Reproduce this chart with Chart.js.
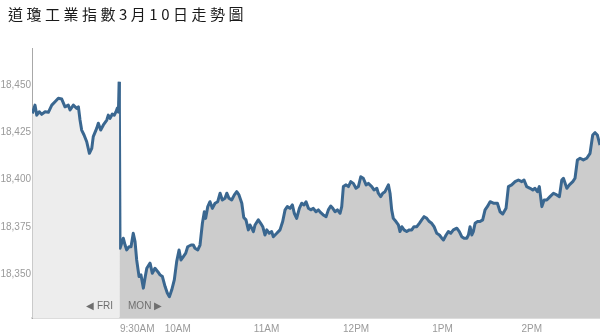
<!DOCTYPE html>
<html>
<head>
<meta charset="utf-8">
<script src="https://cdn.jsdelivr.net/npm/chart.js@4/dist/chart.umd.min.js"></script>
<style>
  html, body { margin: 0; padding: 0; background: #fff; }
  #wrap { position: relative; width: 600px; height: 336px; overflow: hidden; }
  #title { position: absolute; left: 8px; top: 3px; font-family: "Noto Sans CJK TC", "Noto Sans CJK SC", sans-serif; font-size: 15px; letter-spacing: 3.5px; color: #1a1a1a; font-weight: 400; white-space: nowrap; }
  canvas { position: absolute; left: 0; top: 0; }
</style>
</head>
<body>
<div id="wrap">
  <canvas id="c" width="600" height="336"></canvas>
  <div id="title">道瓊工業指數3月10日走勢圖</div>
</div>
<script>
// Friday (last hour, minutes relative to Monday 9:30 open on the shared axis)
const fridayTimes = [-59.0,-57.2,-56.0,-54.3,-52.7,-50.4,-48.2,-45.9,-43.7,-41.5,-39.2,-37.0,-34.8,-33.6,-31.4,-29.1,-28.0,-26.9,-25.8,-24.2,-22.4,-20.6,-19.0,-18.0,-15.7,-14.6,-13.0,-11.2,-8.9,-7.9,-6.7,-5.2,-3.8,-2.7,-1.8,-1.1,-0.5];
const fridayValues = [18435.0,18439.4,18434.1,18435.9,18434.5,18435.9,18435.6,18439.4,18441.2,18443.0,18442.6,18438.5,18439.4,18436.8,18439.4,18437.7,18438.5,18431.5,18426.2,18423.6,18420.0,18413.9,18416.5,18422.7,18427.1,18429.8,18426.2,18428.9,18431.5,18434.1,18432.4,18434.7,18434.1,18435.9,18437.8,18435.7,18451.7];

// Monday (minutes after 9:30 open)
const mondayTimes = [0.0,2.2,3.4,4.5,6.1,7.4,8.9,10.1,11.2,12.8,14.1,15.7,16.8,18.0,20.2,21.7,23.5,25.4,26.9,28.5,30.3,31.8,33.2,34.8,36.5,38.1,39.7,41.0,42.6,44.2,45.5,47.8,49.3,50.4,52.3,53.8,55.4,56.7,57.6,59.0,60.5,62.1,63.9,65.7,67.3,68.8,70.6,71.8,73.3,75.1,76.9,78.5,80.0,81.9,83.2,84.7,86.3,87.4,88.6,89.7,90.8,93.0,94.6,96.0,97.5,98.7,100.4,102.0,103.1,105.4,107.6,109.4,111.0,112.5,114.3,115.9,117.2,118.8,120.6,122.2,123.8,125.1,126.7,128.3,130.0,131.8,133.4,135.0,136.7,138.6,140.1,141.7,143.1,144.6,146.2,148.0,149.1,150.2,152.0,153.6,155.2,156.9,158.7,160.3,161.9,163.6,165.5,167.0,169.3,170.8,172.7,173.7,175.3,176.7,178.2,180.5,181.6,182.7,183.8,185.6,187.2,188.3,189.5,191.0,192.8,194.6,196.2,197.7,199.6,201.3,202.9,204.5,206.3,208.0,209.6,211.2,213.0,214.8,216.4,217.5,219.3,220.8,222.4,224.2,226.5,228.2,229.8,231.4,233.2,234.3,235.4,236.6,237.6,238.8,240.3,242.1,243.9,245.5,247.0,248.9,251.1,253.8,255.6,257.4,259.6,261.2,263.4,265.7,267.9,270.2,271.7,273.5,275.8,277.6,279.1,280.7,282.0,283.7,285.2,287.0,289.2,291.5,293.7,295.5,297.1,298.2,300.5,302.2,304.5,306.0,307.6,309.4,311.6,313.9,316.1,317.9,319.5,321.0,322.8];
const mondayValues = [18363.7,18369.0,18365.4,18362.8,18364.5,18364.5,18371.6,18367.2,18357.5,18348.7,18349.6,18342.6,18347.9,18353.1,18355.8,18350.5,18353.1,18351.3,18349.6,18348.7,18343.4,18340.0,18338.1,18341.7,18346.9,18356.6,18362.8,18357.5,18359.3,18361.1,18364.5,18365.4,18365.4,18363.7,18362.8,18365.4,18376.9,18383.0,18379.5,18385.7,18388.3,18384.8,18387.5,18388.3,18392.8,18389.2,18390.1,18392.8,18390.1,18389.2,18391.9,18393.6,18391.9,18387.5,18380.0,18378.7,18373.4,18376.0,18374.3,18372.5,18376.0,18378.7,18376.9,18375.1,18370.7,18373.4,18371.6,18372.5,18369.8,18371.6,18373.4,18377.8,18384.0,18385.7,18384.8,18386.6,18382.2,18379.5,18384.8,18387.5,18386.6,18388.3,18384.8,18384.0,18384.8,18383.0,18384.0,18382.5,18381.3,18380.4,18384.0,18386.0,18384.8,18383.0,18384.0,18382.2,18385.7,18396.3,18397.2,18396.3,18398.9,18398.0,18395.4,18396.3,18401.5,18400.7,18397.2,18398.0,18396.3,18394.5,18395.4,18392.8,18391.0,18392.8,18393.6,18397.2,18392.8,18384.0,18379.5,18377.8,18376.0,18372.5,18375.1,18373.4,18372.5,18373.4,18373.4,18375.1,18375.1,18376.9,18378.7,18380.4,18379.5,18377.8,18376.9,18375.1,18371.6,18370.7,18369.0,18368.1,18370.7,18372.5,18371.6,18373.4,18374.3,18372.5,18369.8,18369.0,18369.0,18370.7,18375.1,18370.7,18372.5,18376.9,18377.8,18377.8,18378.7,18384.0,18385.7,18388.3,18387.5,18387.5,18383.0,18381.8,18384.8,18396.3,18397.2,18398.9,18399.8,18398.9,18399.8,18396.3,18395.4,18394.5,18395.4,18393.6,18396.3,18385.7,18389.2,18389.2,18391.0,18392.8,18391.9,18391.0,18399.8,18400.7,18395.4,18397.2,18398.9,18400.7,18410.4,18411.3,18410.4,18411.3,18413.9,18423.6,18424.8,18423.6,18418.3];

const xTickValues = [0, 30, 90, 150, 210, 270];
const xTickLabels = ['9:30AM', '10AM', '11AM', '12PM', '1PM', '2PM'];
const yTickValues = [18350, 18375, 18400, 18425, 18450];
const dayLabels = ['◀ FRI', 'MON ▶'];

const tickFamily = "'Liberation Sans', Arial, sans-serif";
const lineColor = '#3a6790';

const friData = fridayTimes.map((t, i) => ({ x: t, y: fridayValues[i] }));
const monData = [friData[friData.length - 1]].concat(mondayTimes.map((t, i) => ({ x: t, y: mondayValues[i] })));

const dayLabelPlugin = {
  id: 'dayLabels',
  afterDatasetsDraw(chart) {
    const { ctx, scales: { x }, chartArea } = chart;
    const px = x.getPixelForValue(0);
    const y = chartArea.bottom - 12;
    ctx.save();
    ctx.font = "10px " + tickFamily;
    ctx.fillStyle = '#6f6f6f';
    ctx.textBaseline = 'middle';
    ctx.textAlign = 'right';
    ctx.fillText(dayLabels[0], px - 7, y);
    ctx.textAlign = 'left';
    ctx.fillText(dayLabels[1], px + 8, y);
    ctx.restore();
  }
};

const tickFont = { family: tickFamily, size: 10 };

new Chart(document.getElementById('c'), {
  type: 'line',
  data: {
    datasets: [
      {
        data: friData,
        borderColor: lineColor,
        backgroundColor: '#ededed',
        borderWidth: 3,
        pointRadius: 0,
        fill: 'start',
        tension: 0,
        borderJoinStyle: 'round'
      },
      {
        data: monData,
        borderColor: lineColor,
        backgroundColor: '#cccccc',
        borderWidth: 3,
        pointRadius: 0,
        fill: 'start',
        tension: 0,
        borderJoinStyle: 'round'
      }
    ]
  },
  options: {
    responsive: false,
    animation: false,
    devicePixelRatio: 1,
    layout: { padding: { top: 48, left: 0, right: 0, bottom: 0 } },
    plugins: { legend: { display: false }, tooltip: { enabled: false }, title: { display: false } },
    scales: {
      x: {
        type: 'linear',
        min: -59.2,
        max: 322.8,
        afterBuildTicks(scale) { scale.ticks = xTickValues.map(v => ({ value: v })); },
        afterFit(scale) { scale.height = 18; },
        grid: { display: false, drawTicks: false },
        border: { display: true, color: '#dcdcdc', width: 2 },
        ticks: {
          autoSkip: false,
          maxRotation: 0,
          align: 'start',
          padding: 5,
          color: '#9a9a9a',
          font: tickFont,
          callback: (v) => { const i = xTickValues.indexOf(v); return i >= 0 ? xTickLabels[i] : ''; }
        }
      },
      y: {
        min: 18326.8,
        max: 18469.6,
        afterBuildTicks(scale) { scale.ticks = yTickValues.map(v => ({ value: v })); },
        afterFit(scale) { scale.width = 32; },
        grid: { display: false, drawTicks: false },
        border: { display: true, color: '#a8a8a8', width: 1 },
        ticks: {
          padding: 1,
          color: '#9a9a9a',
          font: tickFont,
          callback: (v) => v.toLocaleString('en-US')
        }
      }
    }
  },
  plugins: [dayLabelPlugin]
});
</script>
</body>
</html>
